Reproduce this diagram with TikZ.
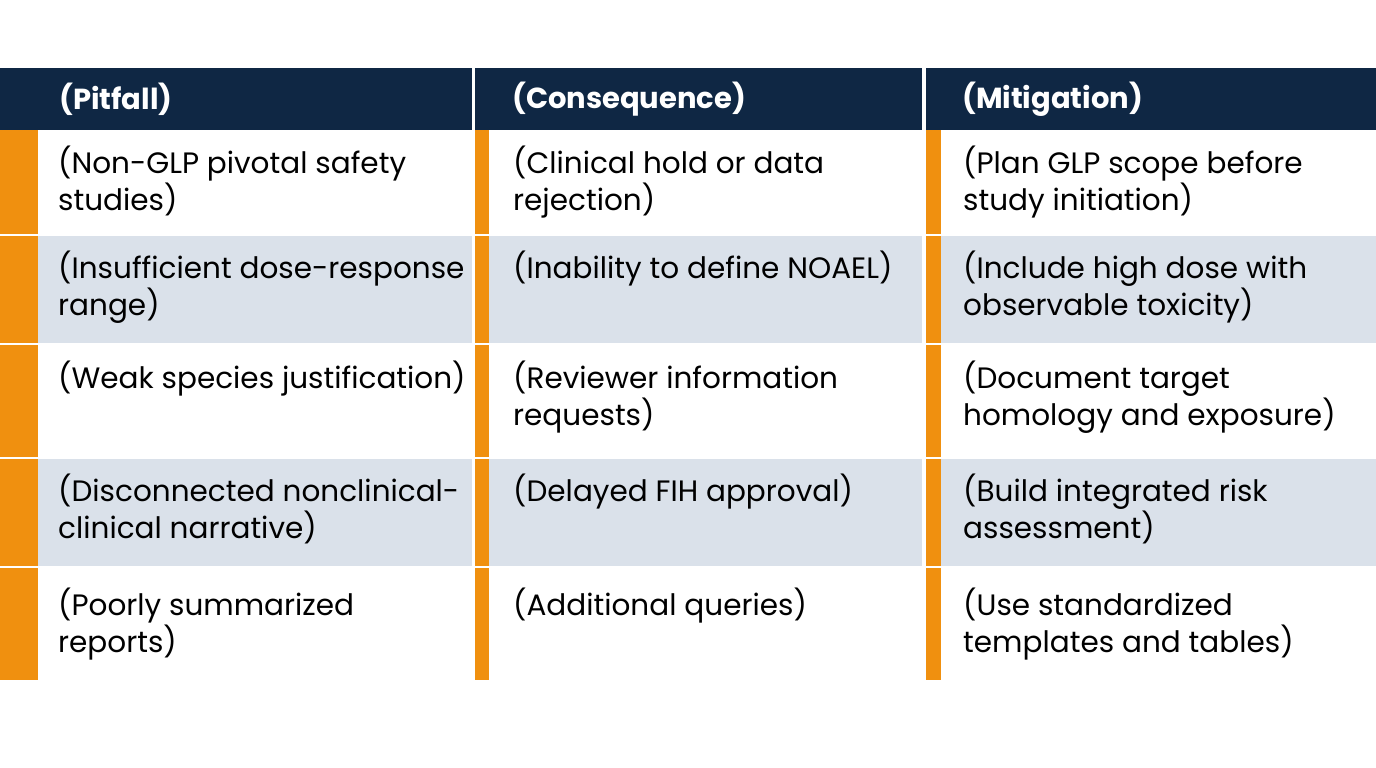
\documentclass[tikz,border=0pt]{standalone}
\usepackage{fontspec}
\setmainfont{Poppins}
\definecolor{navy}{HTML}{0F2744}
\definecolor{band}{HTML}{DAE1EA}
\definecolor{orng}{HTML}{F0900F}
\begin{document}
\begin{tikzpicture}[x=1pt,y=-1pt,
 cell/.style={anchor=north west,align=left,inner sep=0pt,font=\fontsize{29.5}{37}\selectfont,text=black},
 head/.style={anchor=west,inner sep=0pt,font=\fontsize{29}{32}\selectfont\bfseries,text=white}]
\useasboundingbox (0,0) rectangle (1376,768);
\fill[white] (0,0) rectangle (1376,768);
\fill[navy] (0,68) rectangle (1376,130);
\foreach \a/\b/\c in {130/234/white,236/343/band,345/457/white,459/566/band,568/680/white}{
  \fill[\c] (0,\a) rectangle (1376,\b);
  \fill[orng] (0,\a) rectangle (38,\b);
  \fill[orng] (475,\a) rectangle (489,\b);
  \fill[orng] (926,\a) rectangle (941,\b);}
\fill[white] (472,68) rectangle (475,680);
\fill[white] (922,68) rectangle (926,680);
\node[head] (h1) at (59,99) {(Pitfall)};
\node[head] (h2) at (512,99) {(Consequence)};
\node[head] (h3) at (962,99) {(Mitigation)};
\foreach \y/\i/\a/\b/\c in {
 146/1/{(Non-GLP pivotal safety\\studies)}/{(Clinical hold or data\\rejection)}/{(Plan GLP scope before\\study initiation)},
 251/2/{(Insufficient dose-response\\range)}/{(Inability to define NOAEL)}/{(Include high dose with\\observable toxicity)},
 361/3/{(Weak species justification)}/{(Reviewer information\\requests)}/{(Document target\\homology and exposure)},
 474/4/{(Disconnected nonclinical-\\clinical narrative)}/{(Delayed FIH approval)}/{(Build integrated risk\\assessment)},
 588/5/{(Poorly summarized\\reports)}/{(Additional queries)}/{(Use standardized\\templates and tables)}}{
 \node[cell] (a\i) at (58,\y) {\a};
 \node[cell] (b\i) at (513,\y) {\b};
 \node[cell] (c\i) at (963,\y) {\c};}
\end{tikzpicture}
\end{document}
